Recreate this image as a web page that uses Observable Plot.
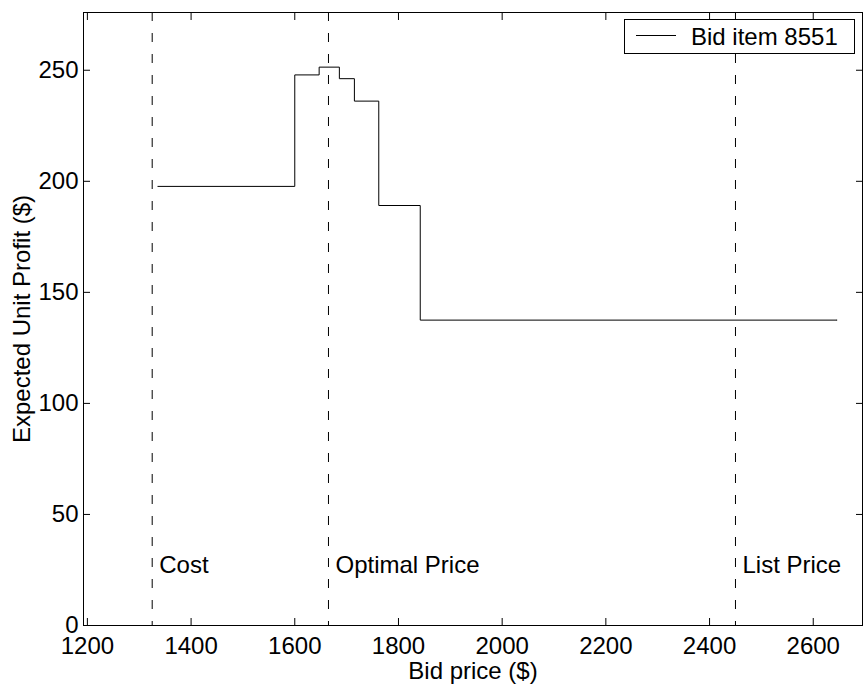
<!DOCTYPE html>
<html>
<head>
<meta charset="utf-8">
<script src="https://cdn.jsdelivr.net/npm/d3@7"></script>
<script src="https://cdn.jsdelivr.net/npm/@observablehq/plot@0.6"></script>
<style>
  html, body { margin: 0; padding: 0; background: #fff; }
  #chart { position: relative; width: 865px; height: 691px; }
</style>
</head>
<body>
<div id="chart"></div>
<script>
// Step curve: bid price ($) vs expected unit profit ($)
const bidPrice       = [1336, 1600, 1647, 1686, 1715, 1762, 1842, 2646];
const expectedProfit = [197.7, 247.9, 251.4, 246.2, 236.1, 189.1, 137.5, 137.5];

// Reference prices (dashed verticals)
const markerPrices = [1325, 1665, 2450];
const markerLabels = ["Cost", "Optimal Price", "List Price"];

const xTicks = [1200, 1400, 1600, 1800, 2000, 2200, 2400, 2600];
const yTicks = [0, 50, 100, 150, 200, 250];
const xDomain = [1192.5, 2695];
const yDomain = [0, 276];

const seriesName = "Bid item 8551";

const curve = bidPrice.map((x, i) => ({x, y: expectedProfit[i]}));
const markers = markerPrices.map((x, i) => ({x, label: markerLabels[i]}));

const W = 865, H = 691;
const FONT = "'Liberation Sans', Arial, Helvetica, sans-serif";
const FS = 24;

const plot = Plot.plot({
  width: W,
  height: H,
  marginLeft: 83,
  marginRight: 3,
  marginTop: 12,
  marginBottom: 66,
  style: {fontFamily: FONT, fontSize: FS + "px", color: "black", background: "white", overflow: "visible"},
  x: {domain: xDomain},
  y: {domain: yDomain},
  marks: [
    // tick labels + axis titles
    Plot.axisX(xTicks, {anchor: "bottom", tickSize: 0, tickPadding: 11, tickFormat: d => String(d),
      label: "Bid price ($)", labelAnchor: "center", labelOffset: 53, labelArrow: "none", fontSize: FS}),
    Plot.axisY(yTicks, {anchor: "left", tickSize: 0, tickPadding: 5, tickFormat: d => String(d),
      label: "Expected Unit Profit ($)", labelAnchor: "center", labelOffset: 71, labelArrow: "none", fontSize: FS}),
    // inward tick marks on all four sides
    Plot.axisX(xTicks, {anchor: "bottom", tickSize: -7, tickFormat: () => "", label: null}),
    Plot.axisX(xTicks, {anchor: "top", tickSize: -7, tickFormat: () => "", label: null}),
    Plot.axisY(yTicks, {anchor: "left", tickSize: -7, tickFormat: () => "", label: null}),
    Plot.axisY(yTicks, {anchor: "right", tickSize: -7, tickFormat: () => "", label: null}),
    // dashed reference lines
    Plot.ruleX(markers, {x: "x", stroke: "black", strokeWidth: 1, strokeDasharray: "9,12"}),
    Plot.text(markers, {x: "x", text: "label", frameAnchor: "bottom", dy: -53, dx: 7,
      textAnchor: "start", lineAnchor: "bottom", fontSize: FS, fill: "black"}),
    // step line
    Plot.line(curve, {x: "x", y: "y", curve: "step-after", stroke: "black", strokeWidth: 1}),
    Plot.frame({stroke: "black", strokeWidth: 1})
  ]
});

document.getElementById("chart").appendChild(plot);

// Legend box (top-right inside the frame)
const svg = d3.select(plot);
const xs = plot.scale("x").range;
const ys = plot.scale("y").range;
const frameRight = Math.max(xs[0], xs[1]);
const frameTop = Math.min(ys[0], ys[1]);
const lg = svg.append("g").attr("font-family", FONT).attr("font-size", FS).attr("text-anchor", "start");
const boxW = 230, boxH = 34;
const bx = frameRight - 8 - boxW, by = frameTop + 7;
lg.append("rect").attr("x", bx + 0.5).attr("y", by + 0.5).attr("width", boxW).attr("height", boxH)
  .attr("fill", "white").attr("stroke", "black").attr("stroke-width", 1);
lg.append("line").attr("x1", bx + 12).attr("x2", bx + 52).attr("y1", by + 16.5).attr("y2", by + 16.5)
  .attr("stroke", "black").attr("stroke-width", 1);
lg.append("text").attr("x", bx + 67).attr("y", by + 25.5).attr("fill", "black")
  .attr("text-anchor", "start").text(seriesName);
</script>
</body>
</html>
